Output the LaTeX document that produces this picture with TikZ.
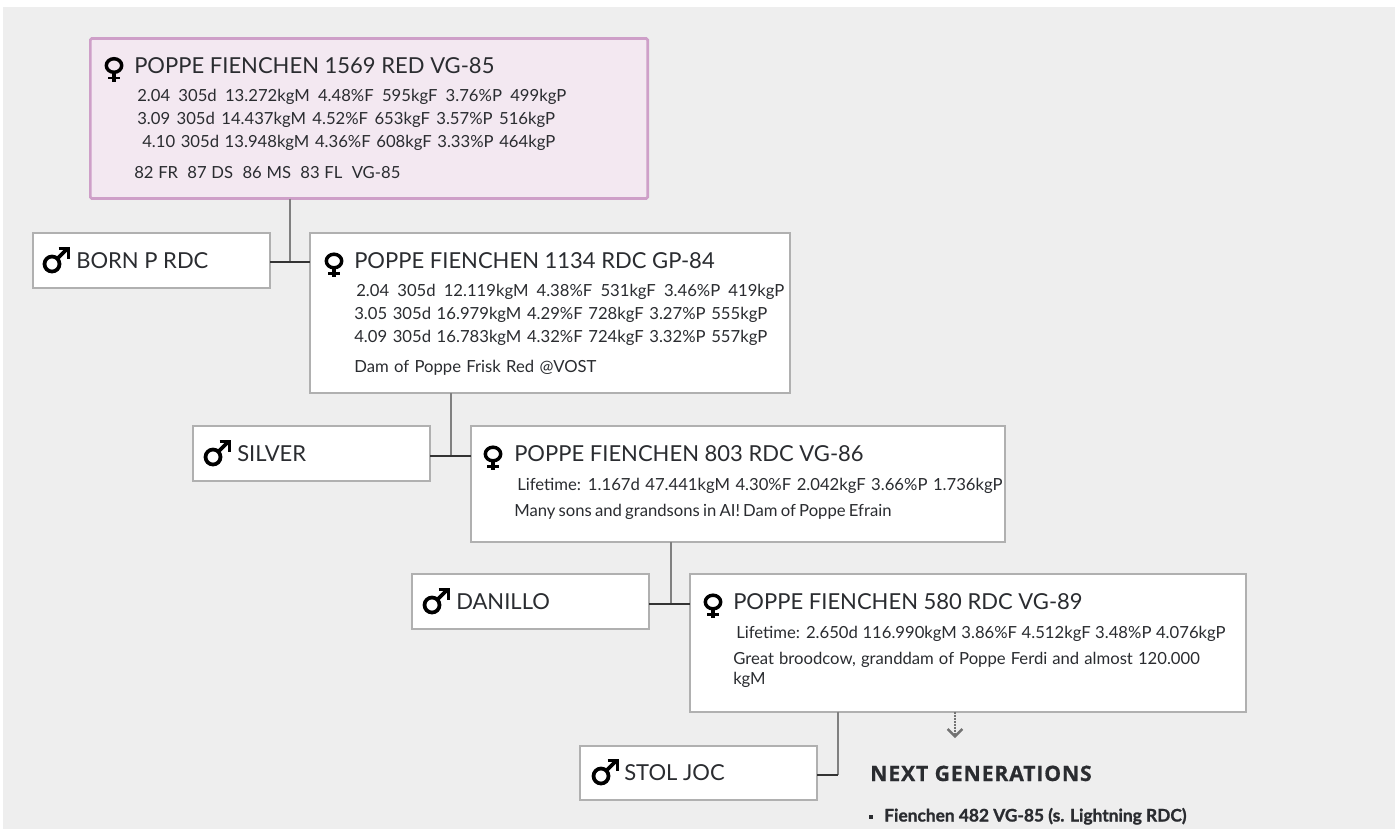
\documentclass[tikz,border=0pt]{standalone}
\usepackage{fontspec}
\setmainfont{Lato}
\newfontfamily\headfont{Open Sans}[LetterSpace=4,BoldFeatures={FakeBold=0.6}]
\newfontfamily\itemfont{Lato}[BoldFeatures={FakeBold=1.2}]
\usetikzlibrary{arrows.meta}
\definecolor{bggray}{HTML}{EEEEEE}
\definecolor{boxgray}{HTML}{B0B0B0}
\definecolor{pinkfill}{HTML}{F3E8F1}
\definecolor{pinkline}{HTML}{CE9FC8}
\definecolor{inkgray}{HTML}{2A2C30}
\newcommand{\rowfont}[1]{\fontsize{12.5}{15}\selectfont\setlength{\spaceskip}{#1}}

\tikzset{
	cowbox/.style={draw=boxgray, fill=white, line width=1.5pt, inner sep=0pt, outer sep=0pt},
	topbox/.style={cowbox, draw=pinkline, fill=pinkfill, line width=2pt, rounded corners=1pt},
	title/.style={anchor=base west, inner sep=0pt, font=\fontsize{16.5}{20}\selectfont},
	row/.style={anchor=base west, inner sep=0pt, font=\rowfont{#1}},
	wire/.style={draw=black!80, line width=1.1pt},
	stem/.style={draw=black!50, line width=2.2pt},
	femsym/.pic={
		\draw[black, line width=2.6pt] (0,0) ellipse (7.7 and 6.8);
		\draw[black, line width=2.6pt] (0,7) -- (0,16);
		\draw[black, line width=2.2pt] (-6,12.5) -- (6,12.5);
	},
	malsym/.pic={
		\draw[black, line width=2.8pt] (0,0) circle (7.5);
		\draw[black, line width=2.8pt] (5,-5) -- (15,-15);
		\draw[black, line width=2.6pt, miter limit=10] (6.5,-15.5) -- (16.5,-15.5) -- (16.5,-5.5);
	},
}

\begin{document}
\begin{tikzpicture}[x=0.75pt, y=-0.75pt, every node/.style={text=inkgray}]
		\useasboundingbox (0,0) rectangle (1395,829);
		\fill[bggray] (3,7) rectangle (1395,829);

		% Boxes
		\node[topbox, minimum width=418pt, minimum height=120pt] (fem0) at (369,118.5) {};
		\node[cowbox, minimum width=178pt, minimum height=41pt] (sire1) at (151.5,260.5) {};
		\node[cowbox, minimum width=360pt, minimum height=120pt] (fem1) at (550,313) {};
		\node[cowbox, minimum width=178pt, minimum height=41pt] (sire2) at (311.5,453.5) {};
		\node[cowbox, minimum width=400pt, minimum height=87pt] (fem2) at (738,484) {};
		\node[cowbox, minimum width=178pt, minimum height=41pt] (sire3) at (530.5,601.5) {};
		\node[cowbox, minimum width=417pt, minimum height=103pt] (fem3) at (968,643) {};
		\node[cowbox, minimum width=178pt, minimum height=41pt] (sire4) at (698.5,773) {};

		% Connectors
		\coordinate (join1) at (290,262);
		\coordinate (join2) at (451,456);
		\coordinate (join3) at (671,604);
		\coordinate (join4) at (838,775);
		\draw[stem] (fem0.south -| join1) -- (join1);
		\draw[wire] (sire1.east |- join1) -- (fem1.west |- join1);
		\draw[stem] (fem1.south -| join2) -- (join2);
		\draw[wire] (sire2.east |- join2) -- (fem2.west |- join2);
		\draw[stem] (fem2.south -| join3) -- (join3);
		\draw[wire] (sire3.east |- join3) -- (fem3.west |- join3);
		\draw[stem] (fem3.south -| join4) -- (join4);
		\draw[wire] (sire4.east |- join4) -- (join4);

		% Arrow to next generations
		\coordinate (nextend) at (955,738);
		\draw[draw=black!55, line width=2.2pt, dash pattern=on 1.5pt off 0.75pt, -{Straight Barb[length=5.5pt,width=11pt,line width=1.8pt]}] (fem3.south -| nextend) -- (nextend);

		% Top cow
		\pic at (114,65.5) {femsym};
		\node[title] (name0) at (134,73) {POPPE FIENCHEN 1569 RED VG-85};
		\node[row=6.2pt] (line01) at (137,101) {2.04 305d 13.272kgM 4.48\%F 595kgF 3.76\%P 499kgP};
		\node[row=4.8pt] (line02) at (137,124) {3.09 305d 14.437kgM 4.52\%F 653kgF 3.57\%P 516kgP};
		\node[row=4.2pt] (line03) at (142,147) {4.10 305d 13.948kgM 4.36\%F 608kgF 3.33\%P 464kgP};
		\node[row=3.5pt] (line04) at (134,178) {82 FR\ \ 87 DS\ \ 86 MS\ \ 83 FL\ \ VG-85};

		% Second generation
		\pic at (52,264) {malsym};
		\node[title] (namesire1) at (76,268) {BORN P RDC};
		\pic at (334,261) {femsym};
		\node[title] (name1) at (354,268) {POPPE FIENCHEN 1134 RDC GP-84};
		\node[row=6.1pt] (line11) at (356,296) {2.04 305d 12.119kgM 4.38\%F 531kgF 3.46\%P 419kgP};
		\node[row=4.2pt] (line12) at (354,319) {3.05 305d 16.979kgM 4.29\%F 728kgF 3.27\%P 555kgP};
		\node[row=4.2pt] (line13) at (354,342) {4.09 305d 16.783kgM 4.32\%F 724kgF 3.32\%P 557kgP};
		\node[row=4pt] (line14) at (354,372) {Dam of Poppe Frisk Red @VOST};

		% Third generation
		\pic at (213,457) {malsym};
		\node[title] (namesire2) at (237,461) {SILVER};
		\pic at (493,454) {femsym};
		\node[title] (name2) at (514,461) {POPPE FIENCHEN 803 RDC VG-86};
		\node[row=4.1pt] (line21) at (517,490) {Lifetime: 1.167d 47.441kgM 4.30\%F 2.042kgF 3.66\%P 1.736kgP};
		\node[row=2.4pt] (line22) at (514,516) {Many sons and grandsons in AI! Dam of Poppe Efrain};

		% Fourth generation
		\pic at (432,605) {malsym};
		\node[title] (namesire3) at (456,609) {DANILLO};
		\pic at (713,602) {femsym};
		\node[title] (name3) at (733,609) {POPPE FIENCHEN 580 RDC VG-89};
		\node[row=3.4pt] (line31) at (736,638) {Lifetime: 2.650d 116.990kgM 3.86\%F 4.512kgF 3.48\%P 4.076kgP};
		\node[row=3.8pt] (line32) at (733,664) {Great broodcow, granddam of Poppe Ferdi and almost 120.000};
		\node[row=3pt] (line33) at (733,684) {kgM};

		% Last sire and next generations
		\pic at (601,776) {malsym};
		\node[title] (namesire4) at (624,780) {STOL JOC};
		\node[anchor=base west, inner sep=0pt, font=\headfont\bfseries\fontsize{15.9}{18}\selectfont] (nexthead) at (870,781) {NEXT GENERATIONS};
		\node[anchor=base west, inner sep=0pt, font=\itemfont\bfseries\fontsize{13}{15}\selectfont] (nextitem) at (884,821.5) {Fienchen 482 VG-85 (s. Lightning RDC)};
		\fill[inkgray] (868.5,814.5) rectangle (872.5,818.5);
\end{tikzpicture}
\end{document}
